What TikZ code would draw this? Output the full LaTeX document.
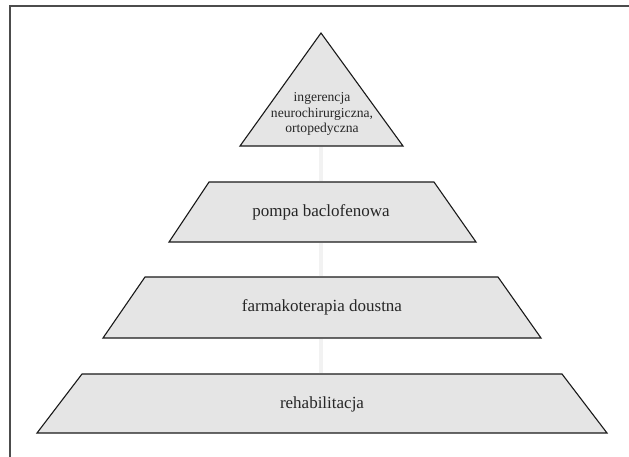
\documentclass[tikz,border=0pt]{standalone}
\usepackage{fontspec}
\setmainfont{Liberation Serif}
\newfontfamily\timesfont{Liberation Serif}
\begin{document}
\begin{tikzpicture}[x=1pt,y=-1pt,
  level/.style={draw=black!90,line width=1.1pt,fill=black!10,line join=miter},
  lbl/.style={font=\timesfont\fontsize{17}{19}\selectfont,text=black!85,inner sep=0pt},
  toplbl/.style={font=\timesfont\fontsize{13.6}{15.5}\selectfont,text=black!85,inner sep=0pt,align=center},
  faint/.style={draw=black!5,line width=4pt},
  frame/.style={draw=black!70,line width=1.4pt}]
\useasboundingbox (0,0) rectangle (629,456);
% frame
\draw[frame] (10,457) -- (10,6) -- (630,6);
% levels
\draw[level] (321,33) -- (403,146) -- (240,146) -- cycle;
\draw[level] (209,182) -- (434,182) -- (476,242) -- (169,242) -- cycle;
\draw[level] (145,277) -- (498,277) -- (541,338) -- (103,338) -- cycle;
\draw[level] (82,374) -- (562,374) -- (607,433) -- (37,433) -- cycle;
% anchor points for connectors
\coordinate (t1) at (321,147);
\coordinate (p0) at (321,181);
\coordinate (p1) at (321,243);
\coordinate (f0) at (321,276);
\coordinate (f1) at (321,339);
\coordinate (r0) at (321,373);
\draw[faint] (p0) -- (t1);
\draw[faint] (f0) -- (p1);
\draw[faint] (r0) -- (f1);
% labels
\node[toplbl] (top) at (322,114) {ingerencja\\neurochirurgiczna,\\ortopedyczna};
\node[lbl] (pompa) at (321,212) {pompa baclofenowa};
\node[lbl] (farm) at (322,307) {farmakoterapia doustna};
\node[lbl] (rehab) at (322,404) {rehabilitacja};
\end{tikzpicture}
\end{document}
